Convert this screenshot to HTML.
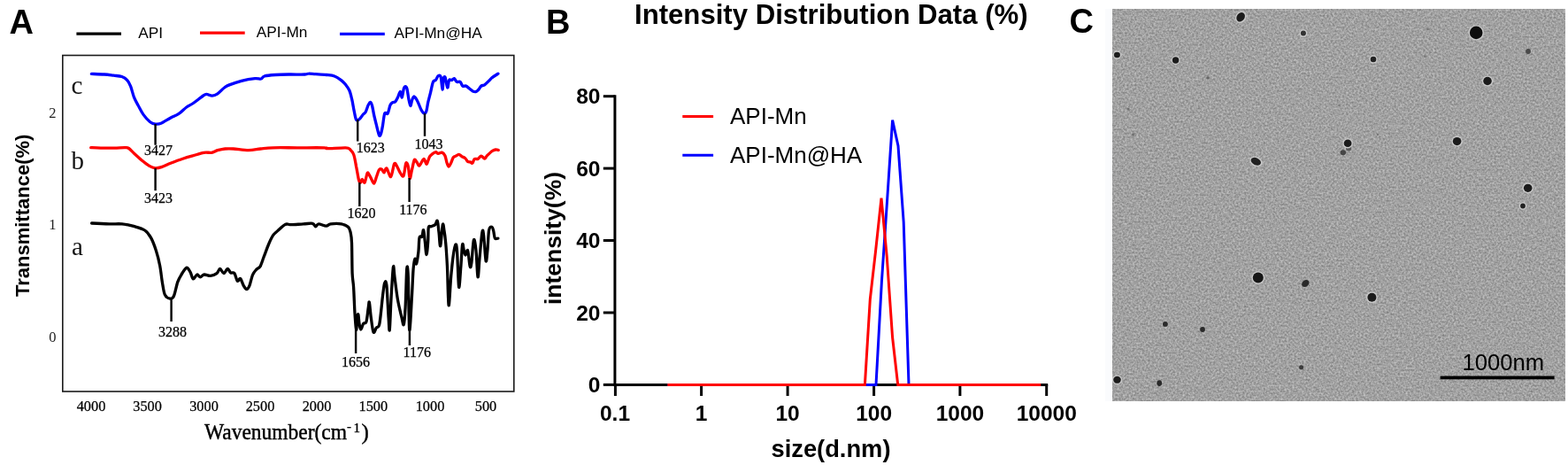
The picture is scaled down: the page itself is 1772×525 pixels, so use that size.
<!DOCTYPE html>
<html><head><meta charset="utf-8"><title>Figure</title>
<style>
html,body{margin:0;padding:0;background:#fff;}
body{width:1772px;height:525px;overflow:hidden;}
svg{display:block;}
.ser{font-family:'Liberation Serif', serif;fill:#000;stroke:#000;stroke-width:0.25px;}
.sans{font-family:'Liberation Sans', sans-serif;fill:#000;}
.b{font-weight:bold;}
</style></head><body>
<svg width="1772" height="525" viewBox="0 0 1772 525">
<defs>
<filter id="noise" x="0" y="0" width="100%" height="100%" color-interpolation-filters="sRGB">
<feTurbulence type="fractalNoise" baseFrequency="0.46" numOctaves="2" seed="7" result="t"/>
<feColorMatrix in="t" type="matrix" values="0.40 0 0 0 0.432  0.40 0 0 0 0.432  0.40 0 0 0 0.432  0 0 0 0 1" result="c"/>
<feGaussianBlur in="c" stdDeviation="0.7"/>
</filter>
<filter id="soft" x="-5%" y="-5%" width="110%" height="110%"><feGaussianBlur stdDeviation="0.55"/></filter>
</defs>
<rect width="1772" height="525" fill="#fff"/>

<!-- ===== Panel A ===== -->
<text class="sans b" x="10.5" y="37.6" font-size="38">A</text>
<g stroke-width="3.2" stroke-linecap="butt">
<line x1="86.4" y1="38.2" x2="137" y2="38.2" stroke="#000"/>
<line x1="226" y1="37.1" x2="276.7" y2="37.1" stroke="#f00"/>
<line x1="384" y1="38.3" x2="434.8" y2="38.3" stroke="#00f"/>
</g>
<text class="sans" x="156.2" y="43" font-size="17.3">API</text>
<text class="sans" x="289.8" y="42" font-size="17.3">API-Mn</text>
<text class="sans" x="445.6" y="42.6" font-size="17.3">API-Mn@HA</text>
<rect x="70.8" y="62.5" width="510" height="379.5" fill="none" stroke="#1a1a1a" stroke-width="1.6"/>
<g class="ser" font-size="16.5" text-anchor="middle" style="stroke:none;fill:#222">
<text x="59.4" y="132.6">2</text>
<text x="59.3" y="258.8">1</text>
<text x="59.3" y="385.7">0</text>
</g>
<g class="ser" font-size="16.3" text-anchor="middle">
<text x="103" y="463.6">4000</text>
<text x="166.6" y="463.6">3500</text>
<text x="230.5" y="463.6">3000</text>
<text x="294" y="463.6">2500</text>
<text x="358" y="463.6">2000</text>
<text x="421.8" y="463.6">1500</text>
<text x="486" y="463.6">1000</text>
<text x="549" y="463.6">500</text>
</g>
<text font-family="'Liberation Serif', serif" fill="#000" stroke="#000" stroke-width="0.45" font-size="24.8"><tspan x="231" y="496.3" textLength="161" lengthAdjust="spacingAndGlyphs">Wavenumber(cm</tspan><tspan x="392" y="486" font-size="15" stroke-width="0.3">-</tspan><tspan x="399.5" y="487.8" font-size="15" stroke-width="0.3">1</tspan><tspan x="408.6" y="495.5">)</tspan></text>
<text class="sans b" font-size="22" transform="translate(33,335) rotate(-90)">Transmittance(%)</text>
<g class="ser" font-size="29" style="stroke:none;fill:#111">
<text x="80.5" y="105.6">c</text>
<text x="80.5" y="190.6">b</text>
<text x="81" y="287.7">a</text>
</g>
<g fill="none" stroke-linejoin="round" stroke-linecap="round" stroke-width="3.3">
<path d="M103.4,83.4 C105.8,83.5 113.7,83.7 117.9,84.0 C122.1,84.3 125.2,84.8 128.5,85.2 C131.8,85.6 135.1,85.6 137.7,86.5 C140.2,87.4 142.2,88.8 143.8,90.6 C145.5,92.4 146.3,94.2 147.6,97.4 C148.9,100.6 150.0,106.0 151.4,109.6 C152.8,113.2 154.2,115.5 156.0,118.8 C157.8,122.1 159.7,126.2 162.0,129.4 C164.3,132.6 167.4,136.0 169.7,137.8 C172.0,139.6 173.8,139.8 175.8,140.1 C177.8,140.3 179.1,140.5 181.9,139.3 C184.7,138.2 189.2,135.0 192.5,133.2 C195.8,131.4 198.6,130.7 201.7,128.7 C204.8,126.7 208.0,123.0 210.8,121.0 C213.6,119.0 215.6,118.4 218.4,116.5 C221.2,114.6 225.2,111.3 227.6,109.6 C230.0,107.9 230.9,106.5 232.9,106.3 C234.9,106.0 237.6,108.2 239.8,108.1 C242.0,108.0 243.6,107.3 245.9,105.8 C248.2,104.3 251.3,100.6 253.5,99.0 C255.7,97.3 255.9,97.2 259.1,95.9 C262.3,94.6 268.1,92.5 272.9,91.3 C277.7,90.1 284.4,89.0 288.1,88.6 C291.8,88.2 293.2,89.4 295.0,89.0 C296.8,88.6 296.1,86.8 298.8,86.0 C301.5,85.2 306.4,84.8 311.0,84.5 C315.6,84.2 320.6,84.1 326.2,84.0 C331.8,83.9 340.7,84.2 344.5,84.0 C348.3,83.8 347.0,83.1 349.0,83.1 C351.0,83.0 353.4,83.5 356.7,83.7 C360.0,83.9 365.3,84.1 368.9,84.5 C372.4,84.9 375.2,85.0 378.0,86.0 C380.8,87.0 383.6,89.1 385.6,90.6 C387.6,92.1 388.7,93.2 390.2,95.1 C391.7,97.0 393.5,99.1 394.8,102.0 C396.1,104.9 396.9,108.9 397.8,112.7 C398.7,116.5 399.3,121.2 400.1,124.9 C400.9,128.6 401.6,133.0 402.4,134.8 C403.2,136.6 403.8,135.8 404.7,135.5 C405.6,135.2 406.6,134.0 407.6,132.9 C408.6,131.8 409.6,130.1 410.5,129.0 C411.4,127.9 412.4,127.9 413.3,126.2 C414.2,124.5 415.3,120.4 416.2,118.6 C417.1,116.8 417.8,115.1 418.5,115.3 C419.2,115.5 419.9,116.9 420.6,119.5 C421.3,122.1 422.0,127.2 422.9,131.0 C423.8,134.8 424.8,138.8 425.7,142.4 C426.6,146.1 427.8,151.5 428.6,152.9 C429.4,154.3 429.9,152.8 430.5,151.0 C431.1,149.2 431.7,146.2 432.4,142.4 C433.1,138.6 433.8,130.5 434.7,128.1 C435.6,125.7 437.1,129.7 438.1,128.1 C439.2,126.5 440.1,120.7 441.0,118.6 C441.9,116.5 442.9,116.3 443.8,115.7 C444.8,115.1 445.8,115.8 446.7,114.8 C447.6,113.8 448.6,111.9 449.5,110.0 C450.4,108.1 451.6,103.3 452.4,103.3 C453.2,103.3 453.7,110.5 454.3,110.0 C454.9,109.5 455.6,102.6 456.2,100.5 C456.8,98.4 457.5,97.6 458.1,97.6 C458.7,97.6 459.4,98.1 460.0,100.5 C460.6,102.9 461.3,108.7 461.9,111.9 C462.5,115.1 463.2,119.3 463.8,119.5 C464.4,119.7 465.1,114.7 465.7,112.9 C466.3,111.2 466.8,109.2 467.6,109.0 C468.4,108.8 469.6,110.5 470.5,111.9 C471.4,113.3 472.4,115.5 473.3,117.6 C474.2,119.7 475.1,122.5 476.2,124.3 C477.2,126.0 478.7,127.9 479.6,128.1 C480.6,128.2 481.2,127.3 481.9,125.2 C482.6,123.1 483.0,118.8 483.8,115.2 C484.6,111.6 485.8,107.6 486.7,103.8 C487.6,100.0 488.6,94.6 489.5,92.4 C490.4,90.2 491.4,91.6 492.4,90.5 C493.3,89.4 494.2,86.3 495.2,85.7 C496.1,85.1 497.3,84.2 498.1,86.7 C498.9,89.2 499.5,100.7 500.0,101.0 C500.5,101.3 500.8,90.8 501.3,88.6 C501.8,86.4 502.5,85.9 503.2,87.6 C503.9,89.3 505.0,98.5 505.7,99.0 C506.4,99.5 506.8,91.9 507.6,90.5 C508.4,89.1 509.6,90.8 510.5,90.5 C511.4,90.2 512.3,88.3 513.3,88.6 C514.2,88.9 515.1,91.8 516.2,92.4 C517.3,93.0 518.9,91.6 520.0,92.4 C521.1,93.2 521.8,96.3 522.9,97.1 C524.0,97.9 525.4,96.6 526.7,97.1 C528.0,97.6 529.2,99.0 530.5,100.0 C531.8,101.0 533.0,102.3 534.3,102.9 C535.6,103.5 537.0,103.7 538.1,103.4 C539.2,103.1 540.0,102.0 541.0,101.0 C542.0,100.0 542.7,98.0 543.8,97.1 C544.9,96.2 546.2,96.8 547.6,95.8 C549.0,94.8 551.0,92.8 552.4,91.4 C553.8,90.0 554.5,89.0 556.2,87.6 C558.0,86.2 561.8,83.9 562.9,83.2" stroke="#0000ff"/>
<path d="M102.7,166.6 C104.6,166.7 109.5,167.0 113.9,167.1 C118.3,167.2 124.7,167.2 129.3,167.1 C133.9,167.0 138.6,166.5 141.3,166.6 C144.0,166.7 143.9,166.4 145.6,167.5 C147.3,168.6 149.2,171.0 151.6,173.2 C154.0,175.4 157.3,178.5 160.2,180.9 C163.1,183.3 166.2,185.9 168.8,187.4 C171.4,188.9 173.3,189.6 175.6,189.8 C177.9,190.0 179.6,189.5 182.5,188.6 C185.4,187.7 188.8,185.9 192.8,184.3 C196.8,182.7 202.2,180.6 206.5,179.2 C210.8,177.8 214.5,176.8 218.5,175.7 C222.5,174.5 227.1,172.9 230.5,172.3 C233.9,171.7 236.5,172.7 239.1,172.3 C241.7,171.9 243.3,170.4 245.9,169.7 C248.5,169.0 251.5,168.3 254.5,168.0 C257.5,167.7 259.3,167.7 263.7,168.0 C268.1,168.3 275.8,169.7 280.9,169.7 C286.0,169.7 290.0,168.5 294.6,168.0 C299.2,167.5 301.4,167.0 308.3,166.8 C315.2,166.6 326.1,166.8 335.8,166.8 C345.5,166.8 360.9,166.7 366.6,166.8 C372.3,167.0 366.0,167.7 370.0,167.7 C374.0,167.7 386.3,166.6 390.6,166.8 C394.9,167.0 394.3,167.6 395.8,168.9 C397.3,170.2 398.7,171.6 399.8,174.8 C400.9,178.0 401.7,183.3 402.6,188.1 C403.6,192.8 404.7,200.3 405.5,203.3 C406.3,206.3 406.8,206.3 407.4,206.2 C408.0,206.0 408.5,202.4 409.3,202.4 C410.1,202.4 411.2,207.3 412.1,206.2 C413.1,205.1 414.2,197.3 415.0,195.7 C415.8,194.1 416.2,195.8 416.9,196.7 C417.6,197.6 418.4,199.7 419.4,201.4 C420.3,203.1 421.6,207.4 422.6,207.1 C423.6,206.8 424.6,202.0 425.5,199.5 C426.4,197.0 427.4,193.3 428.3,191.9 C429.2,190.5 430.2,190.5 431.2,191.0 C432.1,191.5 433.1,195.0 434.0,194.8 C434.9,194.6 435.6,189.2 436.9,190.0 C438.2,190.8 440.3,200.3 441.7,199.5 C443.1,198.7 444.4,187.3 445.5,185.2 C446.6,183.1 447.2,185.5 448.3,187.1 C449.4,188.7 450.8,192.9 452.1,194.8 C453.4,196.7 454.9,200.3 456.0,198.6 C457.1,196.8 457.9,186.1 458.8,184.3 C459.7,182.6 460.6,185.2 461.3,188.1 C462.0,190.9 462.5,200.8 463.2,201.4 C463.9,202.0 464.6,195.4 465.5,191.9 C466.4,188.4 467.4,181.9 468.3,180.5 C469.2,179.1 470.2,182.2 471.2,183.3 C472.1,184.4 472.7,187.7 474.0,187.1 C475.3,186.5 477.5,179.8 478.8,179.5 C480.1,179.2 481.1,184.9 481.9,185.2 C482.7,185.5 483.2,182.8 483.8,181.4 C484.4,180.0 484.9,178.0 485.7,176.7 C486.5,175.4 487.5,174.6 488.6,173.8 C489.7,173.0 491.3,171.8 492.4,171.7 C493.5,171.6 494.0,173.2 495.2,173.3 C496.4,173.4 498.2,171.7 499.5,172.1 C500.8,172.5 501.9,173.7 502.9,175.7 C503.8,177.7 504.5,182.2 505.2,184.3 C505.9,186.4 506.4,188.1 507.1,188.1 C507.8,188.1 508.6,186.1 509.5,184.3 C510.4,182.6 511.4,178.9 512.4,177.6 C513.4,176.2 514.2,176.8 515.2,176.2 C516.2,175.6 517.5,174.2 518.6,174.3 C519.7,174.4 520.7,176.0 521.9,176.7 C523.1,177.4 524.6,177.6 525.7,178.6 C526.8,179.6 527.7,181.7 528.6,182.4 C529.5,183.1 530.5,182.6 531.4,182.9 C532.3,183.2 533.0,184.9 533.8,184.3 C534.6,183.7 535.2,180.3 536.2,179.5 C537.2,178.7 538.7,180.1 540.0,179.5 C541.3,178.9 542.5,176.3 543.8,176.2 C545.1,176.1 546.5,179.1 547.6,179.0 C548.7,178.9 549.1,177.1 550.5,175.7 C551.9,174.3 554.6,171.6 556.2,170.5 C557.8,169.4 558.8,169.2 560.0,169.0 C561.2,168.8 562.8,169.4 563.3,169.5" stroke="#ff0000"/>
<path d="M103.6,252.0 C106.9,252.2 117.9,252.8 123.6,252.9 C129.3,253.1 133.2,252.4 137.9,252.9 C142.7,253.4 147.8,254.5 152.1,255.7 C156.4,256.9 160.5,257.9 163.6,260.0 C166.7,262.1 168.6,264.8 170.7,268.6 C172.8,272.4 174.7,277.7 176.4,282.9 C178.1,288.1 179.5,293.8 180.7,300.0 C181.9,306.2 182.6,314.5 183.6,320.0 C184.6,325.5 185.0,330.0 186.4,332.9 C187.8,335.8 190.4,336.9 192.1,337.1 C193.8,337.3 195.0,337.4 196.4,334.3 C197.8,331.2 199.3,322.7 200.7,318.6 C202.1,314.6 203.3,312.7 205.0,310.0 C206.7,307.3 209.0,302.8 210.7,302.3 C212.4,301.8 213.7,305.0 215.0,307.1 C216.3,309.2 217.1,314.4 218.4,314.9 C219.7,315.4 221.4,310.3 222.7,310.0 C224.0,309.7 225.1,312.9 226.4,312.9 C227.7,312.9 228.8,310.2 230.7,310.0 C232.6,309.8 235.5,311.6 237.9,311.4 C240.3,311.2 243.2,309.9 245.0,308.6 C246.8,307.3 247.3,303.5 248.6,303.5 C249.9,303.5 251.5,308.6 252.9,308.6 C254.3,308.6 255.9,303.6 257.2,303.5 C258.5,303.4 259.3,306.9 260.6,307.8 C261.9,308.7 263.6,307.0 264.9,308.6 C266.2,310.2 267.2,316.2 268.3,317.2 C269.4,318.2 270.6,313.8 271.7,314.6 C272.8,315.5 274.0,320.3 275.2,322.3 C276.4,324.3 277.5,326.6 278.6,326.6 C279.7,326.6 280.9,325.0 282.0,322.3 C283.1,319.6 284.2,313.3 285.5,310.3 C286.8,307.3 288.3,305.9 289.7,304.3 C291.1,302.7 292.6,303.3 294.0,300.9 C295.4,298.5 296.7,293.8 298.3,289.7 C299.9,285.6 301.8,280.0 303.5,276.0 C305.2,272.0 306.9,268.3 308.6,265.7 C310.3,263.1 311.5,262.7 313.8,260.6 C316.1,258.6 319.7,254.6 322.3,253.4 C324.9,252.2 325.8,253.8 329.2,253.7 C332.6,253.6 338.9,253.1 342.9,252.9 C346.9,252.7 350.9,251.8 353.2,252.3 C355.5,252.8 355.5,255.7 356.6,255.8 C357.8,255.9 358.1,253.0 360.1,252.9 C362.1,252.8 366.3,255.1 368.6,255.1 C370.9,255.1 370.9,253.3 373.8,252.9 C376.7,252.5 382.5,252.3 385.8,252.9 C389.1,253.5 391.8,254.7 393.5,256.3 C395.2,257.9 395.4,259.3 396.1,262.3 C396.8,265.3 397.2,266.6 397.5,274.3 C397.8,282.0 397.8,300.3 398.1,308.6 C398.5,316.9 399.1,316.7 399.6,324.3 C400.1,331.9 400.5,346.0 401.0,354.0 C401.5,362.0 402.2,371.5 402.6,372.3 C403.1,373.1 403.3,361.5 403.7,358.6 C404.1,355.7 404.5,354.0 404.9,355.1 C405.3,356.2 405.5,362.6 406.0,365.4 C406.5,368.2 407.0,372.0 407.8,372.0 C408.6,372.0 409.6,366.9 410.6,365.4 C411.6,363.9 413.1,366.2 414.0,363.1 C414.9,360.1 415.7,350.7 416.3,347.1 C416.9,343.5 416.9,339.5 417.4,341.4 C417.9,343.3 418.5,353.0 419.3,358.6 C420.1,364.2 421.0,373.1 422.0,375.0 C423.0,376.9 424.2,371.6 425.4,370.0 C426.5,368.4 427.8,371.1 428.9,365.4 C430.0,359.7 431.4,343.3 432.3,335.7 C433.2,328.1 433.8,322.0 434.6,319.7 C435.4,317.4 436.1,315.5 436.9,322.0 C437.6,328.5 438.5,350.2 439.1,358.6 C439.7,367.0 439.8,376.1 440.3,372.3 C440.8,368.5 441.4,347.5 442.1,335.7 C442.8,323.9 443.8,305.2 444.4,301.4 C445.0,297.6 445.2,306.8 446.0,312.9 C446.8,319.0 448.1,330.4 449.4,338.0 C450.7,345.6 452.9,353.9 454.0,358.6 C455.1,363.3 455.6,368.3 456.3,366.4 C457.0,364.5 457.5,357.6 458.1,347.1 C458.7,336.7 459.2,309.4 459.7,303.7 C460.2,298.0 460.8,301.5 461.3,312.9 C461.8,324.3 462.0,368.5 462.7,372.3 C463.4,376.1 464.7,347.1 465.4,335.7 C466.1,324.3 466.5,310.9 467.1,303.7 C467.7,296.5 468.3,293.2 468.9,292.3 C469.5,291.4 469.8,299.3 470.5,298.0 C471.2,296.7 472.3,289.2 472.9,284.3 C473.5,279.4 473.3,271.2 474.0,268.3 C474.7,265.4 476.1,268.5 476.9,267.1 C477.7,265.7 478.0,258.7 478.6,259.7 C479.2,260.7 479.7,268.2 480.3,272.9 C480.9,277.6 481.4,287.7 482.0,287.7 C482.6,287.7 483.3,278.0 483.7,272.9 C484.1,267.8 483.7,259.8 484.3,256.9 C484.9,254.0 485.9,256.2 487.1,255.7 C488.3,255.2 490.5,254.8 491.7,253.7 C492.9,252.6 493.6,248.0 494.3,249.4 C495.0,250.8 495.4,257.6 496.0,262.3 C496.6,267.0 497.0,279.1 497.7,277.7 C498.4,276.3 499.6,256.5 500.3,253.7 C501.0,250.8 501.4,257.2 502.0,260.6 C502.6,264.0 503.1,267.7 503.7,274.3 C504.3,280.9 504.8,288.2 505.4,300.0 C506.0,311.8 506.4,342.8 507.1,344.8 C507.8,346.8 508.8,321.5 509.7,312.0 C510.6,302.5 511.4,294.0 512.3,288.0 C513.2,282.0 514.2,276.6 514.9,276.0 C515.6,275.4 516.0,276.6 516.6,284.6 C517.2,292.6 517.9,321.6 518.6,324.2 C519.3,326.8 520.2,308.0 520.9,300.0 C521.6,292.0 522.0,278.9 522.6,276.0 C523.2,273.1 523.7,280.9 524.3,282.9 C524.9,284.9 525.3,288.0 526.0,288.0 C526.7,288.0 527.8,280.8 528.6,282.9 C529.5,285.0 530.4,298.3 531.1,300.6 C531.8,302.9 532.2,301.6 532.9,296.6 C533.6,291.7 534.5,273.2 535.4,270.9 C536.2,268.6 537.2,275.9 538.0,282.9 C538.8,289.9 539.3,311.4 540.0,312.8 C540.7,314.2 541.2,299.8 542.0,291.4 C542.8,283.0 544.1,266.6 544.9,262.3 C545.7,258.0 545.9,260.3 546.6,265.7 C547.3,271.1 548.4,291.6 549.1,294.5 C549.8,297.4 550.3,288.7 550.9,282.9 C551.5,277.1 551.8,264.1 552.6,259.7 C553.5,255.3 555.1,256.1 556.0,256.3 C556.9,256.5 557.1,258.5 557.7,260.6 C558.3,262.7 558.5,267.7 559.4,269.1 C560.3,270.5 562.3,269.1 562.9,269.1" stroke="#000"/>
</g>
<g stroke="#000" stroke-width="2.4">
<line x1="175.6" y1="140" x2="175.6" y2="163.7"/>
<line x1="175.6" y1="190" x2="175.6" y2="215.2"/>
<line x1="404.2" y1="135" x2="404.2" y2="159.5"/>
<line x1="480" y1="128" x2="480" y2="153.8"/>
<line x1="406.3" y1="206" x2="406.3" y2="233"/>
<line x1="462.6" y1="201" x2="462.6" y2="228"/>
<line x1="193.6" y1="337" x2="193.6" y2="363"/>
<line x1="402.1" y1="372" x2="402.1" y2="399"/>
<line x1="462.9" y1="372" x2="462.9" y2="390"/>
</g>
<g class="ser" font-size="16" text-anchor="middle">
<text x="178.9" y="174.9">3427</text>
<text x="179" y="228.9">3423</text>
<text x="418.8" y="171.9">1623</text>
<text x="484.6" y="167.5">1043</text>
<text x="408.4" y="246.2">1620</text>
<text x="466.9" y="242.4">1176</text>
<text x="195" y="380">3288</text>
<text x="402" y="413.7">1656</text>
<text x="471.3" y="403.2">1176</text>
</g>

<!-- ===== Panel B ===== -->
<text class="sans b" x="617" y="37.5" font-size="38">B</text>
<text class="sans b" x="717" y="27.2" font-size="31.15">Intensity Distribution Data (%)</text>
<g stroke="#000" stroke-width="3" stroke-linecap="butt">
<line x1="694.9" y1="107.2" x2="694.9" y2="436"/>
<line x1="693.4" y1="434.4" x2="1184.2" y2="434.4"/>
<line x1="681.8" y1="108.7" x2="694.9" y2="108.7"/>
<line x1="681.8" y1="190.1" x2="694.9" y2="190.1"/>
<line x1="681.8" y1="271.5" x2="694.9" y2="271.5"/>
<line x1="681.8" y1="353" x2="694.9" y2="353"/>
<line x1="681.8" y1="434.4" x2="694.9" y2="434.4"/>
<line x1="695.4" y1="434.4" x2="695.4" y2="447"/>
<line x1="792.6" y1="434.4" x2="792.6" y2="447"/>
<line x1="890.1" y1="434.4" x2="890.1" y2="447"/>
<line x1="987.6" y1="434.4" x2="987.6" y2="447"/>
<line x1="1084.9" y1="434.4" x2="1084.9" y2="447"/>
<line x1="1182.7" y1="434.4" x2="1182.7" y2="447"/>
</g>
<g class="sans b" font-size="24.5" text-anchor="end">
<text x="678.5" y="117.4">80</text>
<text x="678.5" y="198.8">60</text>
<text x="678.5" y="280.2">40</text>
<text x="678.5" y="361.7">20</text>
<text x="678.5" y="443.1">0</text>
</g>
<g class="sans b" font-size="24.5" text-anchor="middle">
<text x="695" y="475.1">0.1</text>
<text x="792.6" y="475.1">1</text>
<text x="890.1" y="475.1">10</text>
<text x="987.6" y="475.1">100</text>
<text x="1084.9" y="475.1">1000</text>
<text x="1182.7" y="475.1">10000</text>
</g>
<text class="sans b" x="939" y="515.7" font-size="27.3" text-anchor="middle">size(d.nm)</text>
<text class="sans b" font-size="26.5" text-anchor="middle" transform="translate(633.8,269) rotate(-90)">intensity(%)</text>
<g stroke-width="3">
<line x1="771.3" y1="131.5" x2="806.1" y2="131.5" stroke="#f00"/>
<line x1="771.3" y1="175.2" x2="806.1" y2="175.2" stroke="#00f"/>
</g>
<text class="sans" x="825" y="139.9" font-size="26">API-Mn</text>
<text class="sans" x="825" y="183.6" font-size="26">API-Mn@HA</text>
<g fill="none" stroke-width="3" stroke-linejoin="miter">
<polyline points="754.3,434.4 990.0,434.4 996.4,318.0 1002.6,226.0 1008.6,135.6 1015.0,164.8 1021.2,251.0 1027.0,434.4 1100.0,434.4" stroke="#00f"/>
<polyline points="754.3,434.4 977.4,434.4 983.3,338.0 989.6,283.0 996.0,223.7 1002.2,289.0 1008.6,381.0 1014.7,434.4 1176.3,434.4" stroke="#f00"/>
</g>

<!-- ===== Panel C ===== -->
<text class="sans b" x="1208.5" y="37" font-size="38">C</text>
<rect x="1249" y="10" width="8" height="443" fill="#fafbfd"/>
<rect x="1257" y="10" width="512" height="443" fill="#a6a6a6"/>
<rect x="1257" y="10" width="512" height="443" fill="#a6a6a6" filter="url(#noise)"/>
<g filter="url(#soft)">
<ellipse cx="1402.1" cy="19.3" rx="5.8" ry="7.0" fill="#cacaca" transform="rotate(35 1402.1 19.3)"/>
<ellipse cx="1402.1" cy="19.3" rx="4.4" ry="5.6" fill="#1c1c1c" transform="rotate(35 1402.1 19.3)"/>
<ellipse cx="1472.9" cy="37.6" rx="4.4" ry="4.4" fill="#cacaca"/>
<ellipse cx="1472.9" cy="37.6" rx="3.0" ry="3.0" fill="#333"/>
<ellipse cx="1262.4" cy="62" rx="4.9" ry="4.7" fill="#cacaca"/>
<ellipse cx="1262.4" cy="62" rx="3.5" ry="3.3" fill="#1e1e1e"/>
<ellipse cx="1328.6" cy="68" rx="5.1" ry="5.1" fill="#cacaca"/>
<ellipse cx="1328.6" cy="68" rx="3.7" ry="3.7" fill="#1c1c1c"/>
<ellipse cx="1419.3" cy="182.3" rx="7.4" ry="5.4" fill="#cacaca" transform="rotate(25 1419.3 182.3)"/>
<ellipse cx="1419.3" cy="182.3" rx="6.0" ry="4.0" fill="#222" transform="rotate(25 1419.3 182.3)"/>
<ellipse cx="1668.2" cy="36.9" rx="8.7" ry="8.7" fill="#cacaca"/>
<ellipse cx="1668.2" cy="36.9" rx="7.3" ry="7.3" fill="#111"/>
<ellipse cx="1552" cy="67" rx="4.7" ry="4.7" fill="#cacaca"/>
<ellipse cx="1552" cy="67" rx="3.3" ry="3.3" fill="#222"/>
<ellipse cx="1727" cy="58" rx="2.9" ry="2.9" fill="#484848"/>
<ellipse cx="1681" cy="91.5" rx="6.2" ry="6.1" fill="#cacaca"/>
<ellipse cx="1681" cy="91.5" rx="4.8" ry="4.7" fill="#1e1e1e"/>
<ellipse cx="1524" cy="167.6" rx="3.0" ry="3.0" fill="#5a5a5a"/>
<ellipse cx="1523.1" cy="161.7" rx="5.8" ry="5.7" fill="#cacaca"/>
<ellipse cx="1523.1" cy="161.7" rx="4.4" ry="4.3" fill="#1a1a1a"/>
<ellipse cx="1517.8" cy="172.2" rx="3.2" ry="3.0" fill="#444"/>
<ellipse cx="1646.6" cy="159.6" rx="6.2" ry="6.0" fill="#cacaca"/>
<ellipse cx="1646.6" cy="159.6" rx="4.8" ry="4.6" fill="#1c1c1c"/>
<ellipse cx="1726.7" cy="212.3" rx="6.2" ry="6.0" fill="#cacaca"/>
<ellipse cx="1726.7" cy="212.3" rx="4.8" ry="4.6" fill="#1c1c1c"/>
<ellipse cx="1421.8" cy="313.6" rx="7.4" ry="7.4" fill="#cacaca"/>
<ellipse cx="1421.8" cy="313.6" rx="6.0" ry="6.0" fill="#151515"/>
<ellipse cx="1475.3" cy="320" rx="4.6" ry="3.6" fill="#2c2c2c" transform="rotate(-40 1475.3 320)"/>
<ellipse cx="1316.9" cy="365.9" rx="2.9" ry="2.9" fill="#2a2a2a"/>
<ellipse cx="1359" cy="372" rx="2.9" ry="2.9" fill="#2a2a2a"/>
<ellipse cx="1262.5" cy="428.8" rx="5.7" ry="5.4" fill="#cacaca"/>
<ellipse cx="1262.5" cy="428.8" rx="4.3" ry="4.0" fill="#1e1e1e"/>
<ellipse cx="1310.2" cy="432.6" rx="2.9" ry="3.4" fill="#2a2a2a"/>
<ellipse cx="1470.6" cy="414.7" rx="2.5" ry="2.5" fill="#3a3a3a"/>
<ellipse cx="1550.4" cy="335.7" rx="6.4" ry="6.4" fill="#cacaca"/>
<ellipse cx="1550.4" cy="335.7" rx="5.0" ry="5.0" fill="#1c1c1c"/>
<ellipse cx="1721" cy="232.5" rx="4.3" ry="4.3" fill="#cacaca"/>
<ellipse cx="1721" cy="232.5" rx="2.9" ry="2.9" fill="#222"/>
<ellipse cx="1365" cy="88" rx="1.8" ry="1.8" fill="#666"/>
<ellipse cx="1275" cy="123" rx="1.5" ry="1.5" fill="#707070"/>
<ellipse cx="1280.5" cy="152" rx="1.5" ry="1.8" fill="#707070"/>
<ellipse cx="1613.5" cy="33" rx="1.4" ry="1.4" fill="#777"/>
<ellipse cx="1610" cy="63.6" rx="1.4" ry="1.4" fill="#7a7a7a"/>
<ellipse cx="1513.5" cy="119" rx="1.3" ry="1.3" fill="#7a7a7a"/>
<ellipse cx="1557" cy="152" rx="1.3" ry="1.3" fill="#777"/>
</g>
<rect x="1627.6" y="424.5" width="129" height="3.8" fill="#000"/>
<text class="sans" x="1652.5" y="418" font-size="25.6" fill="#000">1000nm</text>
</svg>
</body></html>
